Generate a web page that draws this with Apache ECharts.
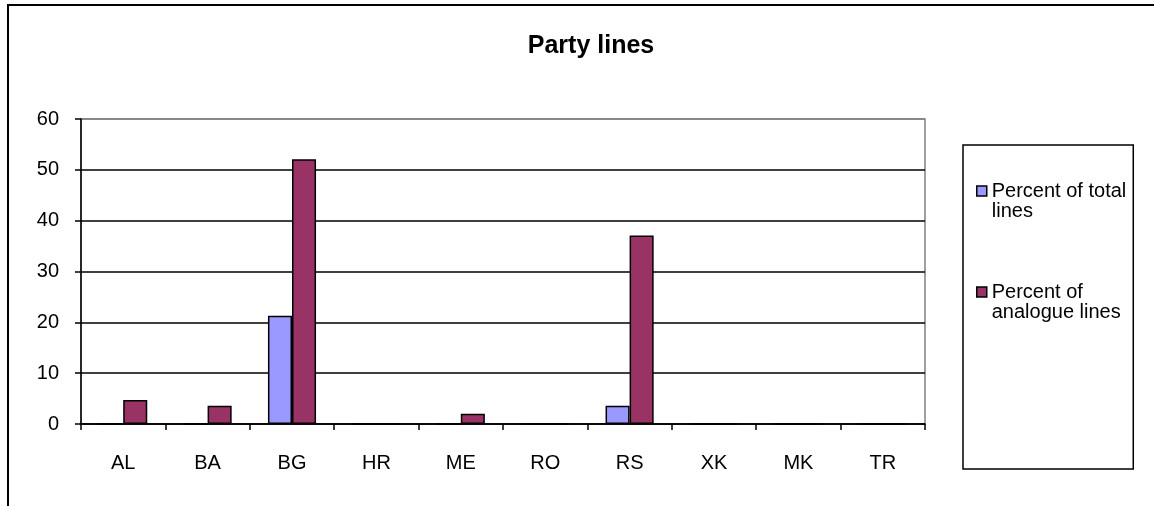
<!DOCTYPE html>
<html>
<head>
<meta charset="utf-8">
<script src="https://cdn.jsdelivr.net/npm/echarts@6/dist/echarts.min.js"></script>
<style>
  html, body { margin: 0; padding: 0; background: #fff; }
  #chart { position: absolute; left: 0; top: 0; width: 1154px; height: 506px; }
  #frame { position: absolute; left: 7px; top: 4px; width: 1147px; height: 502px;
           border-top: 2px solid #000; border-left: 2px solid #000; box-sizing: border-box; pointer-events: none; }
</style>
</head>
<body>
<div id="chart"></div>
<div id="frame"></div>
<script>
const categories = ['AL', 'BA', 'BG', 'HR', 'ME', 'RO', 'RS', 'XK', 'MK', 'TR'];
const seriesNames = ['Percent of total lines', 'Percent of analogue lines'];
const percentTotal = [0, 0, 21.3, 0, 0, 0, 3.6, 0, 0, 0];
const percentAnalogue = [4.7, 3.6, 52.1, 0, 2.0, 0, 37.1, 0, 0, 0];
const yTicks = [0, 10, 20, 30, 40, 50, 60];

const font = '"Liberation Sans", Arial, sans-serif';
const chart = echarts.init(document.getElementById('chart'), null, { renderer: 'canvas' });

chart.setOption({
  animation: false,
  backgroundColor: '#fff',
  textStyle: { fontFamily: font },
  title: {
    text: 'Party lines',
    left: 586,
    textAlign: 'center',
    top: 29,
    textStyle: { fontFamily: font, fontSize: 25, fontWeight: 'bold', color: '#000' }
  },
  legend: {
    orient: 'vertical',
    left: 963,
    top: 145,
    padding: [16, 7, 147, 13],
    itemGap: 41,
    itemWidth: 10,
    itemHeight: 10,
    itemStyle: { borderColor: '#000', borderWidth: 1.5 },
    icon: 'rect',
    borderColor: '#000',
    borderWidth: 1.5,
    formatter: function (name) {
      return name === seriesNames[0] ? '\nPercent of total\nlines' : '\nPercent of\nanalogue lines';
    },
    textStyle: { fontFamily: font, fontSize: 20, lineHeight: 20, color: '#000' },
    data: seriesNames
  },
  grid: {
    left: 81, right: 229, top: 119, bottom: 82,
    show: true, borderColor: '#808080', borderWidth: 1.5, backgroundColor: '#fff'
  },
  xAxis: {
    type: 'category',
    data: categories,
    boundaryGap: true,
    axisLine: { lineStyle: { color: '#000', width: 1.5 } },
    axisTick: { show: true, length: 6, inside: false, alignWithLabel: false, lineStyle: { color: '#000', width: 1.5 } },
    axisLabel: { fontFamily: font, fontSize: 20, color: '#000', margin: 29 },
    splitLine: { show: false }
  },
  yAxis: {
    type: 'value',
    min: yTicks[0],
    max: yTicks[yTicks.length - 1],
    interval: 10,
    axisLine: { show: true, lineStyle: { color: '#000', width: 1.5 } },
    axisTick: { show: true, length: 6, inside: false, lineStyle: { color: '#000', width: 1.5 } },
    axisLabel: { fontFamily: font, fontSize: 20, color: '#000', margin: 22 },
    splitLine: { show: true, lineStyle: { color: ['#000', '#000', '#000', '#000', '#000', '#000', '#808080'], width: 1.5 } }
  },
  series: [
    {
      name: seriesNames[0],
      type: 'bar',
      data: percentTotal,
      barGap: '0%',
      barCategoryGap: '43%',
      itemStyle: { color: '#9999FF', borderColor: '#000', borderWidth: 1.5 }
    },
    {
      name: seriesNames[1],
      type: 'bar',
      data: percentAnalogue,
      barGap: '0%',
      barCategoryGap: '43%',
      itemStyle: { color: '#993366', borderColor: '#000', borderWidth: 1.5 }
    }
  ]
});
</script>
</body>
</html>
